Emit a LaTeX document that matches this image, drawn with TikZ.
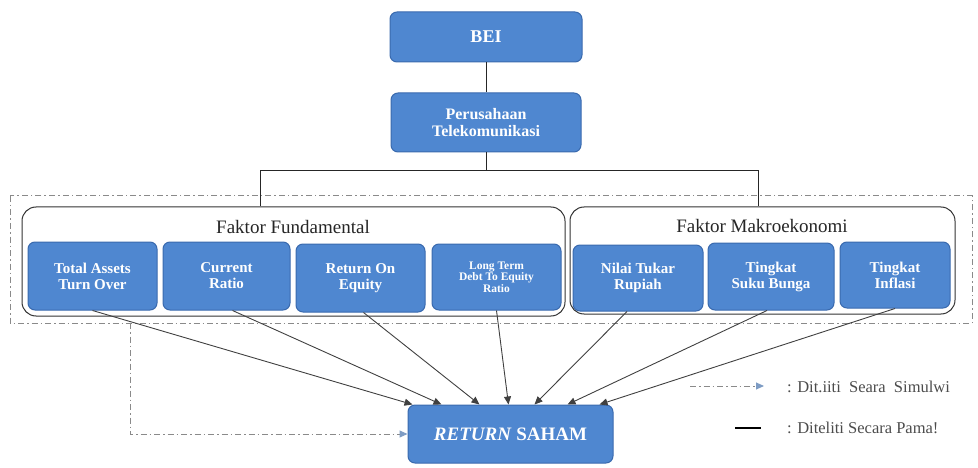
\documentclass[tikz,border=0pt]{standalone}
\usepackage{fontspec}
\setmainfont{Liberation Serif}
\usetikzlibrary{arrows.meta,calc}
\definecolor{boxblue}{HTML}{4F87D0}
\definecolor{boxedge}{HTML}{3A6AAE}
\definecolor{dashgray}{HTML}{8A8A8A}
\definecolor{simtip}{HTML}{7E9CC4}
\tikzset{
  bluebox/.style={draw=boxedge, line width=1pt, fill=boxblue, rounded corners=7pt,
    text=white, font=\bfseries\fontsize{15}{16}\selectfont, align=center, inner sep=2pt},
  groupbox/.style={draw=black!80, line width=1pt, fill=white, rounded corners=14pt},
  grouptitle/.style={font=\fontsize{19}{21}\selectfont, text=black!85},
  link/.style={draw=black!85, line width=0.9pt},
  arr/.style={draw=black!75, line width=0.9pt, -{Triangle[length=8pt,width=7pt]}},
  simul/.style={draw=dashgray, line width=1pt, dash pattern=on 6pt off 3pt on 1.5pt off 3pt},
  simularr/.style={simul, -{Triangle[length=8pt,width=7pt,fill=simtip,color=simtip]}},
  legtext/.style={font=\fontsize{16.5}{18}\selectfont, text=black!70, anchor=west, inner sep=0pt}
}
\begin{document}
\begin{tikzpicture}[x=1pt,y=-1pt]
\useasboundingbox (0,0) rectangle (978,468);
% outer simultaneous frame
\draw[simul] (10,196) rectangle (972,323);
% top boxes
\node[bluebox, minimum width=192pt, minimum height=50pt, font=\bfseries\fontsize{18}{19}\selectfont] (BEI) at (486,37) {BEI};
\node[bluebox, minimum width=190pt, minimum height=59pt, font=\bfseries\fontsize{16}{17}\selectfont] (PER) at (486,122.5) {Perusahaan\\Telekomunikasi};
% group boxes
\node[groupbox, minimum width=543pt, minimum height=109pt] (FUND) at (293.5,261.5) {};
\node[groupbox, minimum width=385pt, minimum height=107pt] (MAKRO) at (762.5,260.5) {};
\node[grouptitle] (FUNDT) at (293,227) {Faktor Fundamental};
\node[grouptitle] (MAKROT) at (762,226) {Faktor Makroekonomi};
% inner boxes
\node[bluebox, minimum width=129pt, minimum height=68pt] (TAT) at (92.5,276) {Total Assets\\Turn Over};
\node[bluebox, minimum width=127pt, minimum height=68pt] (CR) at (226.5,276) {Current\\Ratio};
\node[bluebox, minimum width=129pt, minimum height=68pt] (ROE) at (360.5,278) {Return On\\Equity};
\node[bluebox, minimum width=129pt, minimum height=66pt, font=\bfseries\fontsize{11.5}{11.5}\selectfont] (LTD) at (496.5,277) {Long Term\\Debt To Equity\\Ratio};
\node[bluebox, minimum width=130pt, minimum height=66pt] (NTR) at (638,278) {Nilai Tukar\\Rupiah};
\node[bluebox, minimum width=126pt, minimum height=67pt] (TSB) at (771,276.5) {Tingkat\\Suku Bunga};
\node[bluebox, minimum width=110pt, minimum height=66pt] (TI) at (895,275) {Tingkat\\Inflasi};
% result
\node[bluebox, minimum width=205pt, minimum height=58pt, font=\bfseries\fontsize{19}{20}\selectfont] (RET) at (510.5,434) {\textit{RETURN} SAHAM};
% tree connectors
\coordinate (busL) at (260,170);
\coordinate (busR) at (758,170);
\draw[link] (BEI.south) -- (PER.north);
\draw[link] (PER.south) -- (PER.south |- busL);
\draw[link] (FUND.north -| busL) -- (busL) -- (busR) -- (MAKRO.north -| busR);
% partial arrows
\draw[arr] (TAT.south) -- ($(RET.north west)+(5,0)$);
\draw[arr] ($(CR.south)+(6,0)$) -- ($(RET.north west)+(34,0)$);
\draw[arr] ($(ROE.south)+(3,0)$) -- ($(RET.north west)+(72,0)$);
\draw[arr] (LTD.south) -- ($(RET.north west)+(101,0)$);
\draw[arr] ($(NTR.south)+(-11,0)$) -- ($(RET.north west)+(127,0)$);
\draw[arr] ($(TSB.south)+(-4,0)$) -- ($(RET.north west)+(160,0)$);
\draw[arr] (TI.south) -- ($(RET.north west)+(192,0)$);
% simultaneous arrow
\coordinate (simStart) at (130,323);
\draw[simularr] (simStart) |- (RET.west);
% legend
\coordinate (l1a) at (690,386);
\coordinate (l1b) at (764,386);
\draw[simularr] (l1a) -- (l1b);
\node[legtext] (L1) at (787,387) {: Dit.iiti\ \ Seara\ \ Simulwi};
\coordinate (l2a) at (735,428);
\coordinate (l2b) at (761,428);
\draw[draw=black, line width=1.6pt] (l2a) -- (l2b);
\node[legtext] (L2) at (787,428) {: Diteliti Secara Pama!};
\end{tikzpicture}
\end{document}
